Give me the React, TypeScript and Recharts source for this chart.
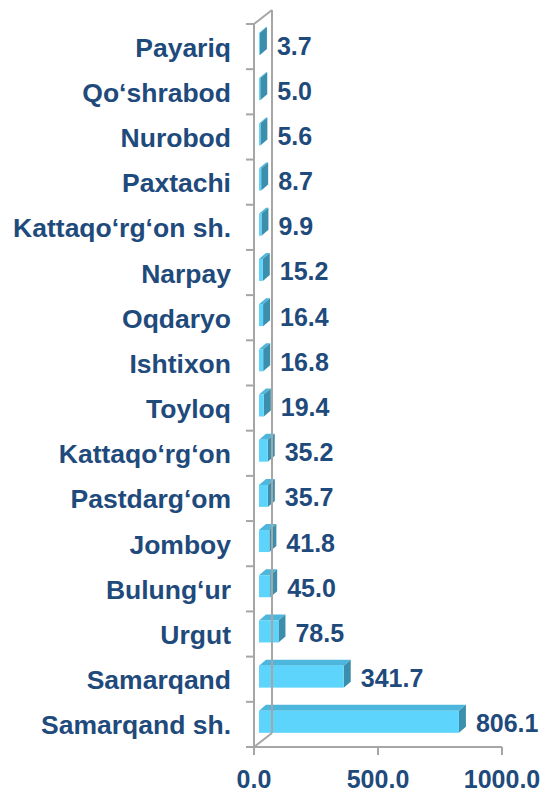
import { BarChart, Bar, XAxis, YAxis, LabelList } from "recharts";

const districts = [
  "Payariq",
  "Qo‘shrabod",
  "Nurobod",
  "Paxtachi",
  "Kattaqo‘rg‘on sh.",
  "Narpay",
  "Oqdaryo",
  "Ishtixon",
  "Toyloq",
  "Kattaqo‘rg‘on",
  "Pastdarg‘om",
  "Jomboy",
  "Bulung‘ur",
  "Urgut",
  "Samarqand",
  "Samarqand sh.",
];

const values = [3.7, 5.0, 5.6, 8.7, 9.9, 15.2, 16.4, 16.8, 19.4, 35.2, 35.7, 41.8, 45.0, 78.5, 341.7, 806.1];

const xTicks = [0, 500, 1000];

const data = districts.map((name, i) => ({ name, value: values[i] }));

const W = 544;
const H = 791;
const LEFT = 254;
const TOP = 24;
const RIGHT = 502;
const BOTTOM = 747;
const WALL_DX = 18;
const WALL_DY = 14;
const ROW = (BOTTOM - TOP) / districts.length;

const FONT = "Arial, 'Liberation Sans', sans-serif";
const TEXT = "#1F4A7C";
const AXIS = "#A6A6A6";
const FRONT = "#5CD4FB";
const TOPFACE = "#4CB6DC";
const SIDE = "#3B8FAD";

// 3D bar: front face + top + right side
const Bar3D = (props: any) => {
  const { x, y, width, height } = props;
  const fx = x + 5;
  const fy = y - 3;
  const dx = 7;
  const dy = 6;
  return (
    <g>
      <polygon
        points={`${fx},${fy} ${fx + dx},${fy - dy} ${fx + width + dx},${fy - dy} ${fx + width},${fy}`}
        fill={TOPFACE}
      />
      <polygon
        points={`${fx + width},${fy} ${fx + width + dx},${fy - dy} ${fx + width + dx},${fy + height - dy} ${fx + width},${fy + height}`}
        fill={SIDE}
      />
      <rect x={fx} y={fy} width={Math.max(width, 0.8)} height={height} fill={FRONT} />
    </g>
  );
};

const CategoryTick = (props: any) => {
  const { y, payload, index } = props;
  const rowBottom = y + ROW / 2;
  return (
    <g>
      {index === 0 && (
        <g stroke={AXIS} strokeWidth={2} fill="none">
          <line x1={LEFT - 8} y1={TOP} x2={LEFT} y2={TOP} />
          <line x1={LEFT} y1={TOP} x2={LEFT + WALL_DX} y2={TOP - WALL_DY} />
          <line x1={LEFT + WALL_DX} y1={TOP - WALL_DY} x2={LEFT + WALL_DX} y2={BOTTOM - WALL_DY} />
          <line x1={LEFT} y1={BOTTOM} x2={LEFT + WALL_DX} y2={BOTTOM - WALL_DY} />
        </g>
      )}
      <line x1={LEFT - 8} y1={rowBottom} x2={LEFT} y2={rowBottom} stroke={AXIS} strokeWidth={2} />
      <text
        x={LEFT - 23}
        y={y + 10}
        textAnchor="end"
        fill={TEXT}
        fontSize={26.5}
        fontWeight="bold"
        fontFamily={FONT}
      >
        {payload.value}
      </text>
    </g>
  );
};

const ValueTick = (props: any) => {
  const { x, payload } = props;
  return (
    <text
      x={x}
      y={788}
      textAnchor="middle"
      fill={TEXT}
      fontSize={25}
      fontWeight="bold"
      fontFamily={FONT}
    >
      {Number(payload.value).toFixed(1)}
    </text>
  );
};

const ValueLabel = (props: any) => {
  const { x, y, width, height, value } = props;
  return (
    <text
      x={x + width + 22}
      y={y + height / 2 + 7.5}
      fill={TEXT}
      fontSize={25}
      fontWeight="bold"
      fontFamily={FONT}
    >
      {Number(value).toFixed(1)}
    </text>
  );
};

export default function App() {
  return (
    <div style={{ position: "absolute", left: 0, top: 0, width: W, height: H, background: "#fff" }}>
      <BarChart
        width={W}
        height={H}
        data={data}
        layout="vertical"
        margin={{ top: TOP, right: W - RIGHT, bottom: 0, left: 0 }}
      >
        <XAxis
          type="number"
          domain={[0, 1000]}
          ticks={xTicks}
          height={H - BOTTOM}
          axisLine={{ stroke: AXIS, strokeWidth: 2 }}
          tickLine={{ stroke: AXIS, strokeWidth: 2 }}
          tickSize={8}
          tick={<ValueTick />}
          interval={0}
        />
        <YAxis
          type="category"
          dataKey="name"
          width={LEFT}
          axisLine={{ stroke: AXIS, strokeWidth: 2 }}
          tickLine={false}
          tick={<CategoryTick />}
          interval={0}
        />
        <Bar dataKey="value" barSize={22} shape={<Bar3D />} isAnimationActive={false}>
          <LabelList dataKey="value" content={<ValueLabel />} />
        </Bar>
      </BarChart>
    </div>
  );
}
